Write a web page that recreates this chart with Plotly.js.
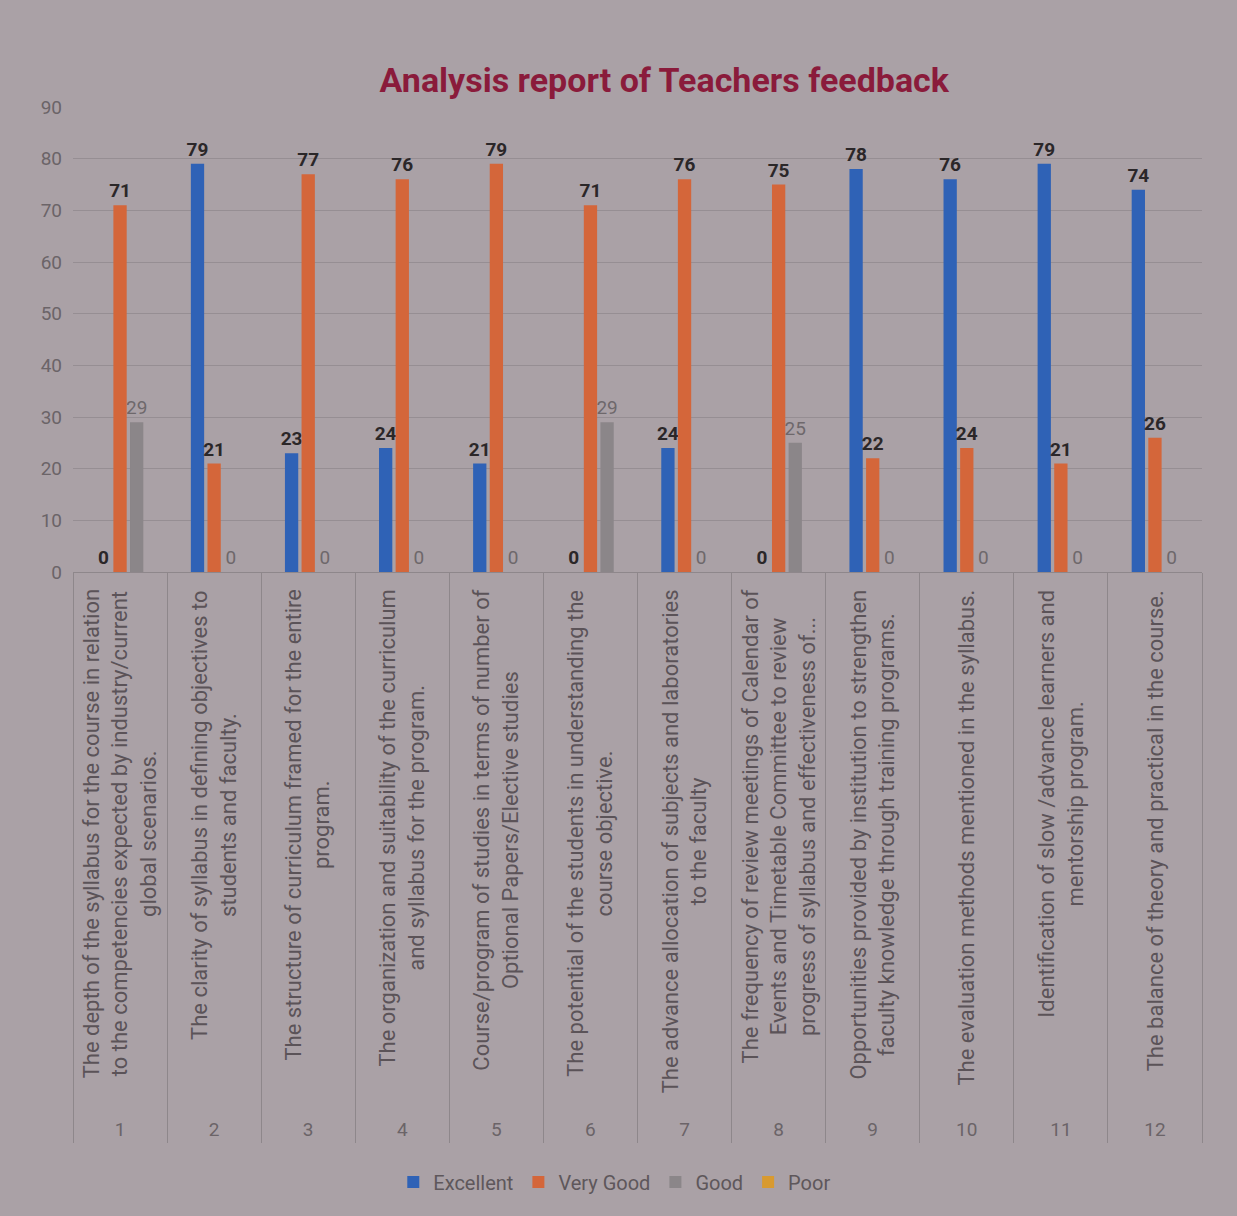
<!DOCTYPE html>
<html>
<head>
<meta charset="utf-8">
<script src="https://cdn.plot.ly/plotly-3.0.1.min.js"></script>
<style>html,body{margin:0;padding:0;background:#aaa1a6;}#chart{width:1237px;height:1216px;}</style>
</head>
<body>
<div id="chart"></div>
<script>
const categories = ['1','2','3','4','5','6','7','8','9','10','11','12'];
const questions = [
  'The depth of the syllabus for the course in relation<br>to the competencies expected by industry/current<br>global scenarios.',
  'The clarity of syllabus in defining objectives to<br>students and faculty.',
  'The structure of curriculum framed for the entire<br>program.',
  'The organization and suitability of the curriculum<br>and syllabus for the program.',
  'Course/program of studies in terms of number of<br>Optional Papers/Elective studies',
  'The potential of the students in understanding the<br>course objective.',
  'The advance allocation of subjects and laboratories<br>to the faculty',
  'The frequency of review meetings of Calendar of<br>Events and Timetable Committee to review<br>progress of syllabus and effectiveness of...',
  'Opportunities provided by institution to strengthen<br>faculty knowledge through training programs.',
  'The evaluation methods mentioned in the syllabus.',
  'Identification of slow /advance learners and<br>mentorship program.',
  'The balance of theory and practical in the course.'
];
const excellent = [0, 79, 23, 24, 21, 0, 24, 0, 78, 76, 79, 74];
const veryGood  = [71, 21, 77, 76, 79, 71, 76, 75, 22, 24, 21, 26];
const good      = [29, 0, 0, 0, 0, 29, 0, 25, 0, 0, 0, 0];
const poor      = [null, null, null, null, null, null, null, null, null, null, null, null];

const FONT = 'Roboto, "Open Sans", sans-serif';
const darkLabel = {family: FONT, size: 19, color: '#2b2729', weight: 700};
const greyLabel = {family: FONT, size: 19, color: '#6e686b'};

function barTrace(name, vals, color, group, tfont) {
  return {
    type: 'bar', name: name, x: categories, y: vals,
    marker: {color: color},
    offsetgroup: group,
    text: vals.map(v => v === null ? '' : String(v)),
    textposition: 'outside', textfont: tfont,
    constraintext: 'none', cliponaxis: false,
    hoverinfo: 'x+y+name'
  };
}

const data = [
  barTrace('Excellent', excellent, '#2f62b6', 'a', darkLabel),
  barTrace('Very Good', veryGood, '#d4663a', 'b', darkLabel),
  barTrace('Good', good, '#8b8689', 'c', greyLabel),
  barTrace('Poor', poor, '#d89a30', 'c', greyLabel)
];

const annotations = questions.map((q, i) => ({
  x: i, xref: 'x', y: -0.034, yref: 'paper',
  text: q, showarrow: false, textangle: -90,
  xanchor: 'center', yanchor: 'top', align: 'center',
  font: {family: FONT, size: 22, color: '#5b5358'}
}));

const layout = {
  width: 1237, height: 1216,
  paper_bgcolor: '#aaa1a6', plot_bgcolor: '#aaa1a6',
  margin: {l: 73, r: 35, t: 107, b: 644},
  barmode: 'group', bargap: 0.47, bargroupgap: 0.2,
  title: {text: 'Analysis report of Teachers feedback', x: 0.537, xanchor: 'center', y: 1 - 80/1216, yanchor: 'middle',
          font: {family: FONT, size: 34, color: '#8a1b3b', weight: 700}},
  showlegend: true,
  legend: {orientation: 'h', xref: 'container', yref: 'container', x: 0.497, xanchor: 'center', y: 1 - 1182/1216, yanchor: 'middle',
           font: {family: FONT, size: 20, color: '#5e575b'}, itemwidth: 20, traceorder: 'normal'},
  xaxis: {type: 'category', showgrid: false, showline: true, linecolor: '#8e878b', linewidth: 1,
          ticks: 'outside', tickson: 'boundaries', ticklen: 570, tickcolor: '#8e878b', tickwidth: 1,
          ticklabelstandoff: 540,
          tickfont: {family: FONT, size: 19, color: '#6b6468'}, zeroline: false, fixedrange: true},
  yaxis: {range: [0, 90], dtick: 10, showgrid: true, gridcolor: '#968e93', gridwidth: 1,
          zeroline: false, showline: false, ticks: '', ticklabelstandoff: 10,
          tickfont: {family: FONT, size: 19, color: '#6b6468'}, fixedrange: true},
  annotations: annotations
};

Plotly.newPlot('chart', data, layout, {displayModeBar: false, staticPlot: true});
</script>
</body>
</html>
